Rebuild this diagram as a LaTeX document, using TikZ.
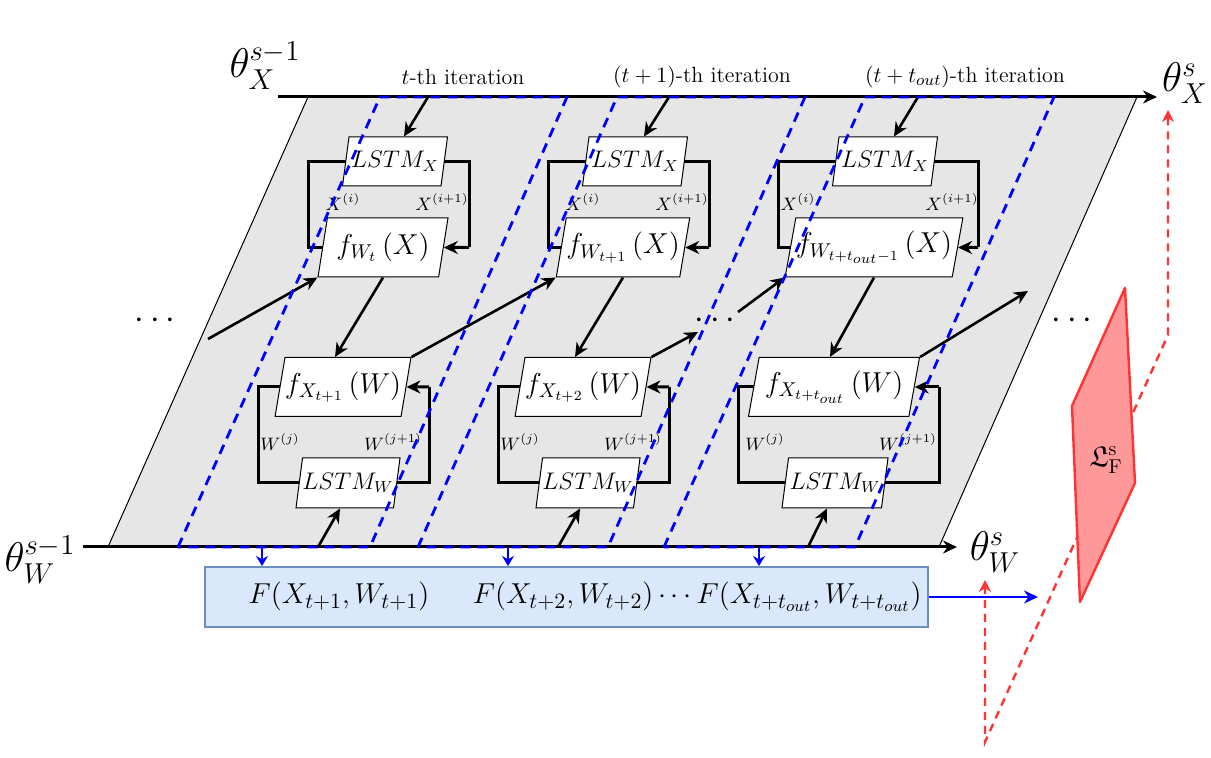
\documentclass[tikz,border=0pt]{standalone}
\usepackage{amsmath,amssymb}
\usetikzlibrary{shapes.geometric,arrows.meta,calc}
\definecolor{grayfill}{HTML}{E6E6E6}
\definecolor{fboxfill}{HTML}{DAE8FC}
\definecolor{fboxdraw}{HTML}{6C8EBF}
\definecolor{redfill}{HTML}{FF9999}
\definecolor{redline}{HTML}{FF3333}
\tikzset{
  para/.style={trapezium, trapezium left angle=72, trapezium right angle=108,
    trapezium stretches body, draw=black, line width=0.5pt, fill=white, inner sep=0pt},
  lstmx/.style={para, minimum width=52.5pt, minimum height=24.5pt, font=\fontsize{11.5}{13}\selectfont},
  lstmw/.style={para, minimum width=50pt, minimum height=25pt, font=\fontsize{11.5}{13}\selectfont},
  fnode/.style={para, minimum height=29.5pt, font=\Large},
  mainline/.style={line width=1.5pt, -{Stealth[length=7pt,width=6.5pt]}},
  loopline/.style={line width=1.5pt},
  looparrow/.style={line width=1.5pt, -{Stealth[length=7pt,width=6.5pt]}},
  arr/.style={line width=1.3pt, -{Stealth[length=7pt,width=6.5pt]}},
  bluedash/.style={draw=blue, line width=1.4pt, dash pattern=on 5pt off 3.5pt},
  bluearr/.style={draw=blue, line width=1.2pt, -{Stealth[length=5pt,width=6pt]}},
  reddash/.style={draw=redline, line width=1.2pt, dash pattern=on 4pt off 3pt},
  sup/.style={font=\small},
  itlabel/.style={font=\fontsize{11}{13}\selectfont},
  dotsnode/.style={font=\LARGE},
}
\begin{document}
\begin{tikzpicture}[x=0.5pt,y=-0.5pt]
\useasboundingbox (0,0) rectangle (1211,758);
% gray plane
\fill[grayfill, draw=black, line width=0.5pt] (108,547) -- (308,97) -- (1137,97) -- (939,547) -- cycle;
% main lines
\coordinate (TL) at (278,97); \coordinate (TR) at (1157,97);
\coordinate (BL) at (83,547); \coordinate (BR) at (957,547);
\draw[mainline] (TL) -- (TR);
\draw[mainline] (BL) -- (BR);
% theta labels
\node (tX1) at (265,66) {\huge$\theta_X^{s-1}$};
\node (tXs) at (1185,83) {\huge$\theta_X^{s}$};
\node (tW1) at (40,560) {\huge$\theta_W^{s-1}$};
\node (tWs) at (995,552) {\huge$\theta_W^{s}$};
% iteration labels
\node[itlabel] (it1) at (463,77) {$t$-th iteration};
\node[itlabel] (it2) at (702,77) {$(t+1)$-th iteration};
\node[itlabel] (it3) at (965,77) {$(t+t_{out})$-th iteration};

% ---------- loops (under boxes)
\draw[loopline] (395,161.5) -| (308,247.5) -- (383,247.5);
\draw[loopline] (635,161.5) -| (548,247.5) -- (623,247.5);
\draw[loopline] (885,161.5) -| (778,247.5) -- (874,247.5);
\draw[loopline] (343,387) -| (258,483) -- (348,483);
\draw[loopline] (583,387) -| (498,483) -- (588,483);
\draw[loopline] (834,387) -| (738,483) -- (835,483);
\draw[loopline] (395,161.5) -| (469,247.5);
\draw[loopline] (635,161.5) -| (709,247.5);
\draw[loopline] (885,161.5) -| (978,247.5);
\draw[loopline] (348,483) -| (429,387);
\draw[loopline] (588,483) -| (669,387);
\draw[loopline] (835,483) -| (939,387);

% ---------- boxes
\node[lstmx] (LX1) at (395,161.5) {$LSTM_X$};
\node[lstmx] (LX2) at (635,161.5) {$LSTM_X$};
\node[lstmx] (LX3) at (885,161.5) {$LSTM_X$};
\node[fnode, minimum width=65pt] (FW1) at (383,247.5) {$f_{W_t}\,(X)$};
\node[fnode, minimum width=65pt] (FW2) at (623,247.5) {$f_{W_{t+1}}\,(X)$};
\node[fnode, minimum width=85.5pt] (FW3) at (874,247.5) {$f_{W_{t+t_{out}-1}}\,(X)$};
\node[fnode, minimum width=65pt] (FX1) at (343,387) {$f_{X_{t+1}}\,(W)$};
\node[fnode, minimum width=65pt] (FX2) at (583,387) {$f_{X_{t+2}}\,(W)$};
\node[fnode, minimum width=85.5pt] (FX3) at (834,387) {$f_{X_{t+t_{out}}}\,(W)$};
\node[lstmw] (LW1) at (348,483) {$LSTM_W$};
\node[lstmw] (LW2) at (588,483) {$LSTM_W$};
\node[lstmw, minimum width=53pt] (LW3) at (835,483) {$LSTM_W$};

% loop arrows into boxes
\draw[looparrow] (469,247.5) -- (FW1.east);
\draw[looparrow] (709,247.5) -- (FW2.east);
\draw[looparrow] (978,247.5) -- (FW3.east);
\draw[looparrow] (429,387) -- (FX1.east);
\draw[looparrow] (669,387) -- (FX2.east);
\draw[looparrow] (939,387) -- (FX3.east);

% loop labels
\node[sup] (xi1) at (343,202) {$X^{(i)}$};
\node[sup] (xj1) at (442,202) {$X^{(i+1)}$};
\node[sup] (xi2) at (583,202) {$X^{(i)}$};
\node[sup] (xj2) at (682,202) {$X^{(i+1)}$};
\node[sup] (xi3) at (798,202) {$X^{(i)}$};
\node[sup] (xj3) at (952,202) {$X^{(i+1)}$};
\node[sup] (wi1) at (280,442) {$W^{(j)}$};
\node[sup] (wj1) at (393,442) {$W^{(j+1)}$};
\node[sup] (wi2) at (520,442) {$W^{(j)}$};
\node[sup] (wj2) at (633,442) {$W^{(j+1)}$};
\node[sup] (wi3) at (765,442) {$W^{(j)}$};
\node[sup] (wj3) at (908,442) {$W^{(j+1)}$};

% arrows from top line into LSTM_X
\coordinate (tx1) at (428,97); \coordinate (tx2) at (669,97); \coordinate (tx3) at (918,97);
\draw[arr] (tx1) -- ([xshift=4.5pt]LX1.north);
\draw[arr] (tx2) -- ([xshift=4.5pt]LX2.north);
\draw[arr] (tx3) -- ([xshift=4.5pt]LX3.north);
% arrows from bottom line into LSTM_W
\coordinate (bw1) at (318,547); \coordinate (bw2) at (558,547); \coordinate (bw3) at (808,547);
\draw[arr] (bw1) -- ([xshift=-4pt]LW1.south);
\draw[arr] (bw2) -- ([xshift=-4pt]LW2.south);
\draw[arr] (bw3) -- ([xshift=-4pt]LW3.south);
% f_W -> f_X
\draw[arr] (FW1.south) -- ([xshift=-4pt]FX1.north);
\draw[arr] (FW2.south) -- ([xshift=-4pt]FX2.north);
\draw[arr] (FW3.south) -- ([xshift=-2pt]FX3.north);
% f_X -> next f_W
\coordinate (s0) at (208,339);
\coordinate (e2) at (698,332); \coordinate (s3) at (738,312);
\coordinate (e4) at (1028,291);
\draw[arr] (s0) -- (FW1.bottom left corner);
\draw[arr] (FX1.top right corner) -- (FW2.bottom left corner);
\draw[arr] (FX2.top right corner) -- (e2);
\draw[arr] (s3) -- (FW3.bottom left corner);
\draw[arr] (FX3.top right corner) -- (e4);
% dots
\node[dotsnode] (d1) at (158,321) {$\cdots$};
\node[dotsnode] (d2) at (718,321) {$\cdots$};
\node[dotsnode] (d3) at (1075,321) {$\cdots$};

% blue dashed iteration frames
\draw[bluedash] (178,547) -- (380,97) -- (567,97) -- (370,547) -- cycle;
\draw[bluedash] (418,547) -- (617,97) -- (805,97) -- (608,547) -- cycle;
\draw[bluedash] (664,547) -- (865,97) -- (1054,97) -- (855,547) -- cycle;

% F box
\node[draw=fboxdraw, fill=fboxfill, line width=1pt, minimum width=361.5pt, minimum height=30pt,
      text width=355pt, align=right, inner xsep=3pt, font=\fontsize{15.4}{18}\selectfont] (F) at (566.5,597)
  {$F(X_{t+1},W_{t+1})\quad\; F(X_{t+2},W_{t+2})\cdots F(X_{t+t_{out}},W_{t+t_{out}})$};
\coordinate (fb1) at (262,547); \coordinate (fb2) at (508,547); \coordinate (fb3) at (759,547);
\draw[bluearr] (fb1) -- (fb1 |- F.north);
\draw[bluearr] (fb2) -- (fb2 |- F.north);
\draw[bluearr] (fb3) -- (fb3 |- F.north);
\coordinate (fe) at (1038,597);
\draw[bluearr, line width=1.3pt, -{Stealth[length=7pt,width=6.5pt]}] (F.east) -- (fe);

% red dashed path
\coordinate (rX) at (1168,110); \coordinate (r1) at (1168,335);
\coordinate (r2) at (985,742); \coordinate (rW) at (985,580);
\draw[reddash, {Stealth[length=6pt,width=6pt]}-{Stealth[length=6pt,width=6pt]}] (rX) -- (r1) -- (r2) -- (rW);
% red loss plane
\draw[draw=redline, fill=redfill, line width=1.2pt, line join=round] (1125,288) -- (1072,406) -- (1080,602) -- (1135,483) -- cycle;
\node[font=\Large] (LF) at (1106,460) {$\mathfrak{L}_{\mathrm{F}}^{\mathrm{s}}$};
\end{tikzpicture}
\end{document}
